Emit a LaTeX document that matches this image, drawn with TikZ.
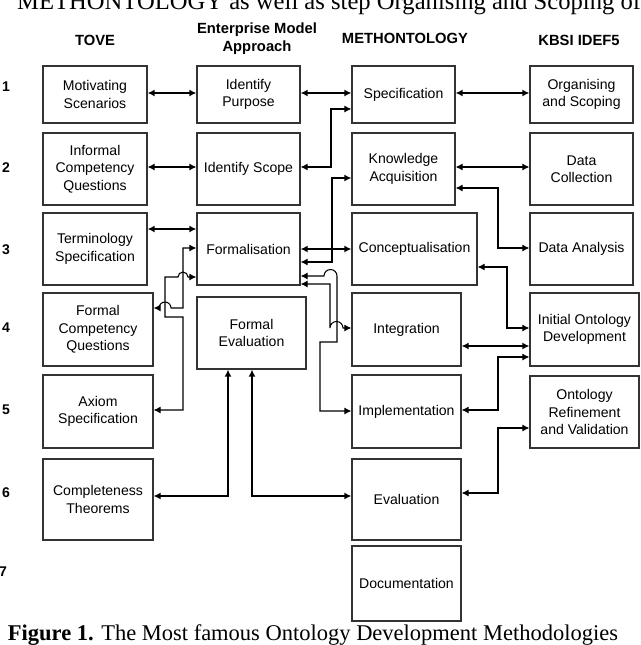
\documentclass[tikz,border=0pt]{standalone}
\usepackage{fontspec}
\setmainfont{Liberation Serif}
\newfontfamily\arialfont{Liberation Sans}
\usetikzlibrary{arrows.meta}

\begin{document}
\begin{tikzpicture}[x=0.025cm, y=-0.025cm, >={Latex[length=5pt,width=5pt]},
    blk/.style 2 args={draw=black!80, line width=0.9pt, align=center, inner sep=0pt,
      font=\fontsize{10}{12.4}\arialfont, minimum width=#1*0.025cm, minimum height=#2*0.025cm},
    head/.style={align=center, font=\fontsize{10.5}{13}\arialfont\bfseries},
    num/.style={font=\fontsize{10}{12}\arialfont\bfseries},
    lkthin/.style={draw=black, <->, line width=0.75pt},
    lkthick/.style={draw=black, <->, line width=1.3pt}]
    \useasboundingbox (0,0) rectangle (640,645);
    \clip (0,0) rectangle (640,645);
    % text of the page around the figure
    \node[anchor=base east, font=\fontsize{17.5}{20}\selectfont] (prev) at (646,9) {METHONTOLOGY as well as step Organising and Scoping of};
    \node[anchor=base west, font=\fontsize{16}{19}\selectfont] (cap) at (3,640) {\textbf{Figure 1.} The Most famous Ontology Development Methodologies};
    % headers
    \node[head] (hTove) at (95,40) {TOVE};
    \node[head] (hEnt) at (257,39) {Enterprise Model\\Approach};
    \node[head] (hMeth) at (405,38) {METHONTOLOGY};
    \node[head] (hKbsi) at (579,40) {KBSI IDEF5};
    % steps
    \foreach \n/\x/\y in {1/6/87, 2/6/168, 3/6/250, 4/6/328, 5/6/410, 6/6/493, 7/3/572}
        \node[num] (r\n) at (\x,\y) {\n};
    % TOVE
    \node[blk={104}{57}] (ms) at (95,94.5) {Motivating\\Scenarios};
    \node[blk={104}{72}] (icq) at (95,169) {Informal\\Competency\\Questions};
    \node[blk={104}{72}] (ts) at (95,249) {Terminology\\Specification};
    \node[blk={110}{73}] (fcq) at (98,329.5) {Formal\\Competency\\Questions};
    \node[blk={110}{73}] (axs) at (98,411.5) {Axiom\\Specification};
    \node[blk={110}{81}] (ct) at (98,499.5) {Completeness\\Theorems};
    % Enterprise Model Approach
    \node[blk={103}{57}] (ip) at (248.5,94.5) {Identify\\Purpose};
    \node[blk={103}{72}] (is) at (248.5,169) {Identify Scope};
    \node[blk={103}{72}] (fo) at (248.5,249) {Formalisation};
    \node[blk={109}{72}] (fe) at (251.5,333) {Formal\\Evaluation};
    % METHONTOLOGY
    \node[blk={103}{57}] (sp) at (403.5,94.5) {Specification};
    \node[blk={103}{72}] (ka) at (403.5,169) {Knowledge\\Acquisition};
    \node[blk={125}{72}] (co) at (414.5,249) {Conceptualisation};
    \node[blk={109}{73}] (intg) at (406.5,329.5) {Integration};
    \node[blk={109}{73}] (im) at (406.5,411.5) {Implementation};
    \node[blk={109}{81}] (ev) at (406.5,499.5) {Evaluation};
    \node[blk={109}{75}] (doc) at (406.5,583.5) {Documentation};
    % KBSI IDEF5
    \node[blk={103}{57}] (os) at (581.5,94.5) {Organising\\and Scoping};
    \node[blk={103}{72}] (dc) at (581.5,169) {Data\\Collection};
    \node[blk={103}{72}] (da) at (581.5,249) {Data Analysis};
    \node[blk={109}{73}] (iod) at (584.5,329.5) {Initial Ontology\\Development};
    \node[blk={109}{72}] (orv) at (584.5,412) {Ontology\\Refinement\\and Validation};
    % links, row by row
    \path[lkthick] (ms.east |- 0,93) to (ip.west |- 0,93);
    \path[lkthick] (ip.east |- 0,93) to (sp.west |- 0,93);
    \path[lkthick] (sp.east |- 0,93) to (os.west |- 0,93);
    \path[lkthin] (icq.east |- 0,167) to (is.west |- 0,167);
    \path[lkthin] (is.east |- 0,167) -| (331,109) -- (sp.west |- 0,109);
    \path[lkthin] (ka.east |- 0,167) to (dc.west |- 0,167);
    \path[lkthin] (ka.east |- 0,188) -| (498,248) -- (da.west |- 0,248);
    \path[lkthick] (ts.east |- 0,229) to (fo.west |- 0,229);
    \coordinate (jn) at (332,249);
    \path[lkthick] (fo.east) to (co.west);
    \path[lkthick, ->] (jn) |- (ka.west |- 0,178);
    \path[lkthin, <-] (fo.east |- 0,262) -| (jn);
    \path[lkthin] (co.east |- 0,267) -| (507,328) -- (iod.west |- 0,328);
    % Formalisation to TOVE
    \path[lkthin] (fo.west |- 0,248) -| (183,308) -- (171,308)
        arc[start angle=0, end angle=-180, radius=6] -- (fcq.east |- 0,308);
    \path[lkthin] (fo.west |- 0,277) -- (188,277)
        arc[start angle=0, end angle=-180, radius=5] -- (165,277) -- (165,317)
        -- (183,317) -- (183,410) -- (axs.east |- 0,410);
    % Formalisation to METHONTOLOGY
    \path[lkthin] (fo.east |- 0,284) -| (330,328)
        arc[start angle=180, end angle=360, radius=6.5] -- (intg.west |- 0,328);
    \path[lkthin] (fo.east |- 0,276) -- (324,276)
        arc[start angle=180, end angle=360, radius=6.5] -- (337,342) -- (320,342)
        -- (320,411) -- (im.west |- 0,411);
    \path[lkthick] (intg.east |- 0,346) to (iod.west |- 0,346);
    \path[lkthin] (im.east |- 0,410) -| (498,357) -- (iod.west |- 0,357);
    % Formal Evaluation
    \path[lkthick] (fe.south -| 228,0) |- (ct.east |- 0,496);
    \path[lkthick] (fe.south -| 252,0) |- (ev.west |- 0,496);
    \path[lkthin] (ev.east |- 0,493) -| (498,428) -- (orv.west |- 0,428);
\end{tikzpicture}
\end{document}
